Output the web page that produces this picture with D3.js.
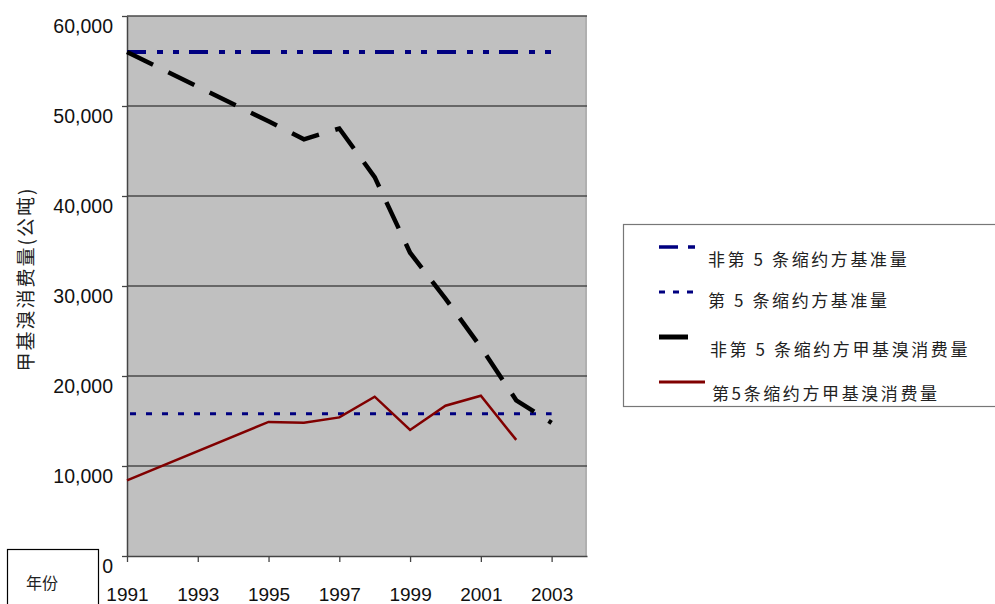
<!DOCTYPE html>
<html>
<head>
<meta charset="utf-8">
<script src="https://cdn.jsdelivr.net/npm/d3@7"></script>
<style>
  body { margin: 0; background: #fff; }
  svg { display: block; }
</style>
</head>
<body>
<div id="container"></div>
<script>
// data
const years = [1991, 1995, 1996, 1997, 1998, 1999, 2000, 2001, 2002, 2003];
const nonA5Consumption = [56000, 48300, 46300, 47500, 42100, 33700, 28600, 23200, 17300, 14800];
const a5Years = [1991, 1995, 1996, 1997, 1998, 1999, 2000, 2001, 2002];
const a5Consumption = [8400, 14900, 14800, 15400, 17700, 14000, 16700, 17800, 12900];
const baselineYears = [1991, 2003];
const nonA5Baseline = [56000, 56000];
const a5Baseline = [15800, 15800];

const yTicks = [0, 10000, 20000, 30000, 40000, 50000, 60000];
const xTicks = [1991, 1993, 1995, 1997, 1999, 2001, 2003];

const legendLabels = [
  '非第 5 条缩约方基准量',
  '第 5 条缩约方基准量',
  '非第 5 条缩约方甲基溴消费量',
  '第5条缩约方甲基溴消费量'
];
const yTitle = '甲基溴消费量(公吨)';
const xTitle = '年份';

const width = 995, height = 604;
const plotLeft = 127, plotRight = 587, plotTop = 16, plotBottom = 556;

const svg = d3.select('#container').append('svg')
  .attr('width', width)
  .attr('height', height);

const x = d3.scaleLinear().domain([1991, 2004]).range([plotLeft, plotRight]);
const y = d3.scaleLinear().domain([0, 60000]).range([plotBottom, plotTop]);

// plot background
svg.append('rect')
  .attr('x', plotLeft).attr('y', plotTop)
  .attr('width', plotRight - plotLeft).attr('height', plotBottom - plotTop)
  .attr('fill', '#c0c0c0');
svg.append('line')
  .attr('x1', plotRight - 1).attr('x2', plotRight - 1)
  .attr('y1', plotTop).attr('y2', plotBottom)
  .attr('stroke', '#b0b0b0').attr('stroke-width', 2);

// gridlines
svg.append('g').selectAll('line')
  .data(yTicks.filter(d => d > 0))
  .enter().append('line')
  .attr('x1', plotLeft).attr('x2', plotRight)
  .attr('y1', d => y(d)).attr('y2', d => y(d))
  .attr('stroke', '#4a4a4a').attr('stroke-width', 1.3);

// axes
const yAxis = d3.axisLeft(y).tickValues(yTicks).tickSize(5).tickSizeOuter(0)
  .tickFormat(d3.format(','));
const gy = svg.append('g').attr('transform', `translate(${plotLeft},0)`).call(yAxis);
gy.select('.domain').attr('stroke', '#444').attr('stroke-width', 1.5);
gy.selectAll('.tick line').attr('stroke', '#444').attr('stroke-width', 1.3);
gy.selectAll('text')
  .attr('x', -14).attr('dy', 16)
  .attr('fill', '#111')
  .style('font-family', '"Liberation Sans", Arial, sans-serif')
  .style('font-size', '19.5px');

const xAxis = d3.axisBottom(x).tickValues(xTicks).tickSize(6).tickSizeOuter(0)
  .tickFormat(d3.format('d'));
const gx = svg.append('g').attr('transform', `translate(0,${plotBottom})`).call(xAxis);
gx.select('.domain').attr('stroke', '#444').attr('stroke-width', 1.5);
gx.selectAll('.tick line').attr('stroke', '#444').attr('stroke-width', 1.3);
gx.selectAll('text')
  .attr('y', 45).attr('dy', 0)
  .attr('fill', '#111')
  .style('font-family', '"Liberation Sans", Arial, sans-serif')
  .style('font-size', '19px');

// series
const line = d3.line().x(d => x(d[0])).y(d => y(d[1]));

svg.append('path')
  .datum(d3.zip(baselineYears, a5Baseline))
  .attr('d', line)
  .attr('fill', 'none')
  .attr('stroke', '#000080').attr('stroke-width', 3)
  .attr('stroke-dasharray', '6,10').attr('stroke-dashoffset', -3);

svg.append('path')
  .datum(d3.zip(baselineYears, nonA5Baseline))
  .attr('d', line)
  .attr('fill', 'none')
  .attr('stroke', '#000080').attr('stroke-width', 4)
  .attr('stroke-dasharray', '19,11,6,10,6,10');

svg.append('path')
  .datum(d3.zip(a5Years, a5Consumption))
  .attr('d', line)
  .attr('fill', 'none')
  .attr('stroke', '#800000').attr('stroke-width', 2.5);

svg.append('path')
  .datum(d3.zip(years, nonA5Consumption))
  .attr('d', line)
  .attr('fill', 'none')
  .attr('stroke', '#000').attr('stroke-width', 4.5)
  .attr('stroke-dasharray', '29,17');

// y title
svg.append('text')
  .attr('transform', 'translate(33,279) rotate(-90)')
  .attr('text-anchor', 'middle')
  .attr('fill', '#222')
  .style('font-family', '"Noto Sans CJK SC", sans-serif')
  .style('font-size', '19px')
  .style('letter-spacing', '2px')
  .text(yTitle);

// x title box
svg.append('rect')
  .attr('x', 7.5).attr('y', 549.5)
  .attr('width', 91).attr('height', 80)
  .attr('fill', 'none').attr('stroke', '#000').attr('stroke-width', 1.2);
svg.append('text')
  .attr('x', 42).attr('y', 582)
  .attr('text-anchor', 'middle').attr('dominant-baseline', 'central')
  .attr('fill', '#222')
  .style('font-family', '"Noto Sans CJK SC", sans-serif')
  .style('font-size', '16px')
  .text(xTitle);

// legend
const legend = svg.append('g');
legend.append('rect')
  .attr('x', 623.5).attr('y', 224.5)
  .attr('width', 380).attr('height', 182)
  .attr('fill', '#fff').attr('stroke', '#777').attr('stroke-width', 1.2);

const legendItems = [
  { ly: 247, x2: 695, color: '#000080', w: 3.5, dash: '19,10,7', ty: 258, tx: 708 },
  { ly: 292, x2: 698, color: '#000080', w: 3, dash: '6,8', ty: 299, tx: 708 },
  { ly: 337, x2: 688, color: '#000', w: 5, dash: null, ty: 348, tx: 710 },
  { ly: 382, x2: 705, color: '#800000', w: 3, dash: null, ty: 392, tx: 712 }
];

legend.selectAll('line.sample')
  .data(legendItems)
  .enter().append('line')
  .attr('class', 'sample')
  .attr('x1', 659).attr('x2', d => d.x2)
  .attr('y1', d => d.ly).attr('y2', d => d.ly)
  .attr('stroke', d => d.color).attr('stroke-width', d => d.w)
  .attr('stroke-dasharray', d => d.dash);

legend.selectAll('text')
  .data(legendItems)
  .enter().append('text')
  .attr('x', d => d.tx).attr('y', d => d.ty)
  .attr('dominant-baseline', 'central')
  .attr('fill', '#222')
  .style('font-family', '"Noto Sans CJK SC", sans-serif')
  .style('font-size', '17px')
  .style('letter-spacing', '2.6px')
  .text((d, i) => legendLabels[i]);
</script>
</body>
</html>
